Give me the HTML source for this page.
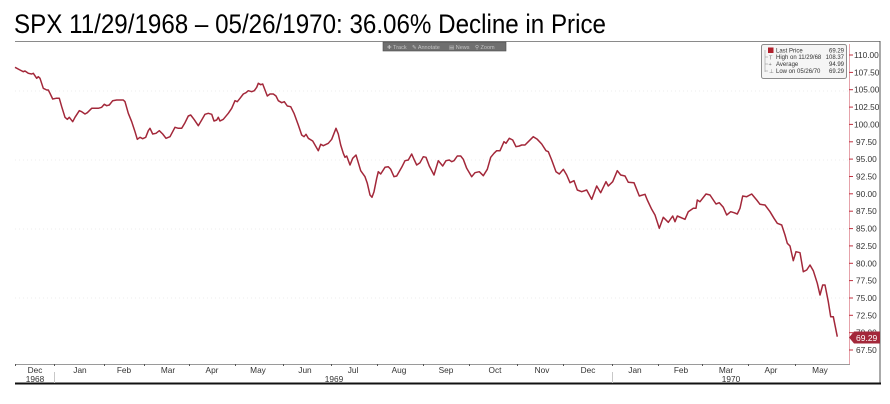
<!DOCTYPE html>
<html><head><meta charset="utf-8"><style>
html,body{margin:0;padding:0;background:#fff;}
body{width:890px;height:404px;overflow:hidden;}
svg{display:block;}
</style></head><body>
<svg width="890" height="404" viewBox="0 0 890 404" xmlns="http://www.w3.org/2000/svg">
<rect width="890" height="404" fill="#fff"/>
<!-- Title -->
<text x="14" y="33" font-family="Liberation Sans, sans-serif" font-size="27" fill="#000" textLength="592" lengthAdjust="spacingAndGlyphs">SPX 11/29/1968 – 05/26/1970: 36.06% Decline in Price</text>
<line x1="15" y1="41.5" x2="880" y2="41.5" stroke="#8a8a8a" stroke-width="1"/>
<!-- frame -->
<line x1="880" y1="41" x2="880" y2="384" stroke="#555" stroke-width="1"/>
<line x1="15" y1="383.5" x2="881" y2="383.5" stroke="#111" stroke-width="2"/>

<!-- faint grid -->
<g stroke="#ececec" stroke-width="1" stroke-dasharray="1,3">
<line x1="15" y1="91" x2="848" y2="91"/>
<line x1="15" y1="160" x2="848" y2="160"/>
<line x1="15" y1="229" x2="848" y2="229"/>
<line x1="15" y1="298" x2="848" y2="298"/>
</g>

<!-- toolbar -->
<rect x="383" y="42" width="123" height="9" fill="#6f6f6f" stroke="#4a4a4a" stroke-width="0.6"/>
<g font-family="Liberation Sans, sans-serif" font-size="5.5" fill="#c4c4c4">
<text x="387" y="49">✚ Track</text>
<text x="412" y="49">✎ Annotate</text>
<text x="449" y="49">▤ News</text>
<text x="475" y="49">⚲ Zoom</text>
</g>

<!-- Y axis -->
<line x1="849.5" y1="44" x2="849.5" y2="364" stroke="#e6a3ab" stroke-width="1"/>
<g stroke="#c0303f" stroke-width="1">
<line x1="849" y1="55" x2="853" y2="55"/><line x1="849" y1="72.4" x2="853" y2="72.4"/>
<line x1="849" y1="89.7" x2="853" y2="89.7"/><line x1="849" y1="107.1" x2="853" y2="107.1"/>
<line x1="849" y1="124.4" x2="853" y2="124.4"/><line x1="849" y1="141.8" x2="853" y2="141.8"/>
<line x1="849" y1="159.1" x2="853" y2="159.1"/><line x1="849" y1="176.5" x2="853" y2="176.5"/>
<line x1="849" y1="193.8" x2="853" y2="193.8"/><line x1="849" y1="211.2" x2="853" y2="211.2"/>
<line x1="849" y1="228.6" x2="853" y2="228.6"/><line x1="849" y1="245.9" x2="853" y2="245.9"/>
<line x1="849" y1="263.3" x2="853" y2="263.3"/><line x1="849" y1="280.6" x2="853" y2="280.6"/>
<line x1="849" y1="298" x2="853" y2="298"/><line x1="849" y1="315.3" x2="853" y2="315.3"/>
<line x1="849" y1="332.7" x2="853" y2="332.7"/><line x1="849" y1="350" x2="853" y2="350"/>
</g>
<g font-family="Liberation Sans, sans-serif" font-size="8.3" fill="#333">
<text x="854" y="58">110.00</text>
<text x="854" y="75.4">107.50</text>
<text x="854" y="92.7">105.00</text>
<text x="854" y="110.1">102.50</text>
<text x="854" y="127.4">100.00</text>
<text x="856" y="144.8">97.50</text>
<text x="856" y="162.1">95.00</text>
<text x="856" y="179.5">92.50</text>
<text x="856" y="196.8">90.00</text>
<text x="856" y="214.2">87.50</text>
<text x="856" y="231.6">85.00</text>
<text x="856" y="248.9">82.50</text>
<text x="856" y="266.3">80.00</text>
<text x="856" y="283.6">77.50</text>
<text x="856" y="301">75.00</text>
<text x="856" y="318.3">72.50</text>
<text x="856" y="335.7">70.00</text>
<text x="856" y="353">67.50</text>
</g>

<!-- X axis -->
<line x1="15" y1="364.5" x2="850" y2="364.5" stroke="#9a9a9a" stroke-width="1"/>
<g stroke="#555" stroke-width="1">
<line x1="15.5" y1="364" x2="15.5" y2="366"/><line x1="54.5" y1="364" x2="54.5" y2="366"/>
<line x1="104.5" y1="364" x2="104.5" y2="366"/><line x1="144.5" y1="364" x2="144.5" y2="366"/>
<line x1="189.5" y1="364" x2="189.5" y2="366"/><line x1="235.5" y1="364" x2="235.5" y2="366"/>
<line x1="283.5" y1="364" x2="283.5" y2="366"/><line x1="331.5" y1="364" x2="331.5" y2="366"/>
<line x1="377.5" y1="364" x2="377.5" y2="366"/><line x1="423.5" y1="364" x2="423.5" y2="366"/>
<line x1="469.5" y1="364" x2="469.5" y2="366"/><line x1="517.5" y1="364" x2="517.5" y2="366"/>
<line x1="563.5" y1="364" x2="563.5" y2="366"/><line x1="612.5" y1="364" x2="612.5" y2="366"/>
<line x1="658.5" y1="364" x2="658.5" y2="366"/><line x1="702.5" y1="364" x2="702.5" y2="366"/>
<line x1="748.5" y1="364" x2="748.5" y2="366"/><line x1="795.5" y1="364" x2="795.5" y2="366"/>
</g>
<g stroke="#c8c8c8" stroke-width="1">
<line x1="54.5" y1="372" x2="54.5" y2="383"/>
<line x1="612.5" y1="372" x2="612.5" y2="383"/>
</g>
<g font-family="Liberation Sans, sans-serif" font-size="8.3" fill="#333" text-anchor="middle">
<text x="35" y="373">Dec</text>
<text x="80" y="373">Jan</text>
<text x="124" y="373">Feb</text>
<text x="168" y="373">Mar</text>
<text x="212" y="373">Apr</text>
<text x="258" y="373">May</text>
<text x="305" y="373">Jun</text>
<text x="353" y="373">Jul</text>
<text x="399" y="373">Aug</text>
<text x="446" y="373">Sep</text>
<text x="495" y="373">Oct</text>
<text x="542" y="373">Nov</text>
<text x="588" y="373">Dec</text>
<text x="635" y="373">Jan</text>
<text x="681" y="373">Feb</text>
<text x="726" y="373">Mar</text>
<text x="771" y="373">Apr</text>
<text x="820" y="373">May</text>
<text x="35" y="382">1968</text>
<text x="334" y="382">1969</text>
<text x="731" y="382">1970</text>
</g>

<!-- series -->
<polyline fill="none" stroke="#a3283a" stroke-width="1.5" stroke-linejoin="round" points="15,67.3 20,70 23.3,71.7 25,71 28.3,73.3 31.7,74 33.3,73.3 36.7,78.3 38.3,76.7 40,78.3 43.3,88.3 46.7,90 48.3,90 50,93.3 52.7,99 56,98.3 59.3,98.3 61.7,106.7 65,117.3 67.3,119.3 69.3,117.3 72.7,121.7 75,117.3 79.3,110.7 81.7,111.7 85,114 87.3,112.7 91.7,108.3 98.3,108.3 101.7,107.3 104.3,104.3 106.7,105.7 109.3,105 112.7,100.7 116.7,100 123.3,100 125,101.7 128.3,113.3 131.7,121.7 135,131.7 137.3,139.3 140,137.3 142.7,138.7 145.7,137.3 148.3,130.7 150,128.3 152.7,134 156,133.3 159.3,130.7 162.7,134 166,138.3 170,136.7 175,127.3 178.3,128.3 181.7,128.3 185,122.7 188.3,116 190.7,115 194,119.3 198.3,125.7 201.7,120 205,114.3 208.3,113.3 211.7,114.3 214,121 216.7,120 218.3,117.3 220,121 223.3,119.3 228.3,113.3 231.7,108.3 235,100.7 237.3,101.7 240,98.3 243.3,94 246,92.7 248.3,90.7 251.7,91.7 254.3,90.7 256.7,87.3 258.3,83.3 260.7,84.7 262.7,84 265,90 267.3,96 270,94 273.3,94 276,96 278.3,100.7 281.7,102.7 284.3,101.7 287.3,106 290.7,106.7 294,113.3 298.3,125 301.7,135 304,136.7 306,134.3 308.3,138.3 312.7,141 316,146.7 318.3,150.7 320.7,144.3 323.3,145.7 328.3,143.3 331.7,139.3 336,128.3 338.3,134 340.7,145 343.3,153.3 345,157.3 346.7,156 350,165 352.7,158.3 356,155 358.3,162.7 360.7,170.7 365,176.7 367.3,183.3 370,195 372,197.3 374,191.7 376.7,178.3 378.3,171.7 380.7,174 385,167.3 388.3,166.7 390.7,169.3 394,176.7 396.7,176 401.7,167.3 405,160.7 408.3,160 411.7,154 414,159.3 416.7,165 420,162.7 423.3,156.7 426,157.3 429.3,166 434,175 438.3,160.7 442.7,166 446,160.7 449.3,160 451.7,161.7 454,160.7 457.3,156 460.7,156 463.3,159.3 466.7,168.3 471.7,176.7 475,172.7 479.3,171.7 483.3,175.7 487.3,169.3 490.7,157.3 494,153.3 496.7,150.7 500,150.7 504,141.7 506,143.3 509.3,138.3 512.7,140 516,146.7 519.3,146 521.7,145 525,145 528.3,141.7 533.3,136.7 537.3,139.3 541.7,144 546,150.7 548.3,151.7 551.7,160 556,171.7 559.3,174 563.3,169.3 566.7,175 570,182.7 574,180.7 577.3,190 581.7,191.7 586.7,190 591.7,199.3 596.7,186 600.7,192.7 606,181.7 608.3,186 612.7,181.7 617.3,170.7 620.7,175 625,176 628.3,182.3 634,182.7 639.3,196 645,194.3 647.3,200 651.7,209.3 655,215 659.3,228.3 663.3,217.3 668.3,222.3 672.7,216 675,221.7 677.3,216 685,219.3 688.3,211.7 693.3,208.3 696,208.3 697.3,200 700,201.7 706,194 710,195 716,204 719.3,202.7 723.3,207.3 726.7,215 730.7,211.7 734,212.7 737.3,214 740,208.3 742.7,196 746.7,196.7 751.7,194 756.7,200 760,204.3 765,205 770,211.7 774,218.3 777.3,223.3 781.7,225 785,235 787.3,243.3 790,246 793.3,260.7 796,251.7 800,252.7 803.3,271.7 806.7,270 810,265 813.3,270.7 817.3,283.3 820,295 822.7,285 825,285 828.3,301.7 830.7,316.7 833.3,316.7 837.3,336.7"/>

<!-- last price tag -->
<polygon points="849,337.5 854,331.5 880,331.5 880,343.5 854,343.5" fill="#a3283a"/>
<text x="856" y="340.8" font-family="Liberation Sans, sans-serif" font-size="8.5" fill="#fff">69.29</text>

<!-- legend -->
<rect x="761.5" y="44.5" width="85" height="34" rx="2" fill="#f5f5f5" stroke="#8c8c8c" stroke-width="1"/>
<rect x="768" y="47.5" width="5.5" height="5.5" fill="#b0202c"/>
<g stroke="#999" stroke-width="0.6" fill="none">
<line x1="765" y1="50" x2="765" y2="72"/>
<line x1="765" y1="57" x2="768" y2="57"/>
<line x1="765" y1="64" x2="768" y2="64"/>
<line x1="765" y1="71" x2="768" y2="71"/>
</g>
<g font-family="Liberation Sans, sans-serif" font-size="6" fill="#333">
<text x="776" y="52.5">Last Price</text>
<text x="776" y="59">High on 11/29/68</text>
<text x="776" y="66">Average</text>
<text x="776" y="73">Low on 05/26/70</text>
</g>
<g font-family="Liberation Sans, sans-serif" font-size="6" fill="#333" text-anchor="end">
<text x="844" y="52.5">69.29</text>
<text x="844" y="59">108.37</text>
<text x="844" y="66">94.99</text>
<text x="844" y="73">69.29</text>
</g>
<g font-family="Liberation Sans, sans-serif" font-size="5.5" fill="#777">
<text x="769" y="59.5">T</text>
<text x="768.5" y="66">+</text>
<text x="769" y="73">⊥</text>
</g>
</svg>
</body></html>
